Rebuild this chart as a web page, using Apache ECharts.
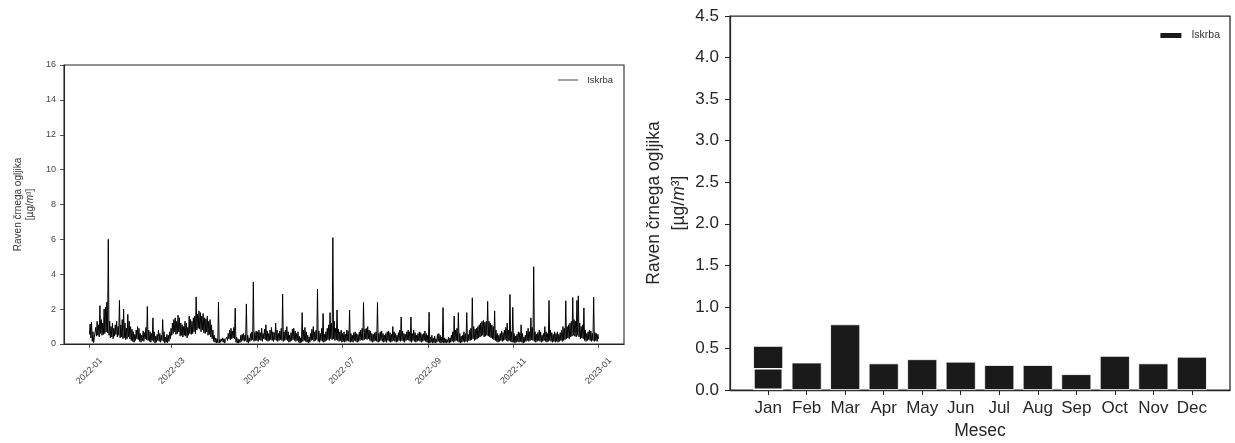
<!DOCTYPE html>
<html>
<head>
<meta charset="utf-8">
<script src="https://cdn.jsdelivr.net/npm/echarts@6/dist/echarts.min.js"></script>
<style>
html,body{margin:0;padding:0;background:#fff;}
#chart{width:1235px;height:443px;}
</style>
</head>
<body>
<div id="chart"></div>
<script>
// ---- Left panel: Iskrba black carbon, 2022, two readings per day (low, high) ----
const bcJan = [
0.55,1.15, 0.35,1.25, 0.15,0.7, 0.08,0.4, 0.3,0.95, 0.45,1.3, 0.5,1.1, 0.4,2.2,
0.6,1.4, 0.5,1.2, 0.55,2.0, 0.6,2.1, 0.7,2.4, 0.65,6.0, 0.5,1.3, 0.35,1.0,
0.4,1.2, 0.3,0.9, 0.45,1.1, 0.55,1.3, 0.4,1.0, 0.5,2.5, 0.35,1.1, 0.4,1.4,
0.3,2.0, 0.35,1.2, 0.25,0.9, 0.3,1.7, 0.4,1.3, 0.3,1.0, 0.2,0.85];
const bcFeb = [
0.15,0.7, 0.1,0.55, 0.2,0.8, 0.3,1.0, 0.25,0.9, 0.15,0.6, 0.1,0.5, 0.2,0.75,
0.15,0.65, 0.3,0.95, 0.25,2.15, 0.2,0.8, 0.15,0.7, 0.1,0.6, 0.2,1.5, 0.15,0.7,
0.05,0.45, 0.1,0.55, 0.2,0.8, 0.15,0.6, 0.1,0.5, 0.2,1.4, 0.15,0.7, 0.05,0.4,
0.1,0.55, 0.08,0.5, 0.15,0.7, 0.3,0.9];
const bcMar = [
0.5,1.2, 0.6,1.4, 0.7,1.5, 0.55,1.3, 0.6,1.65, 0.7,1.5, 0.45,1.2, 0.5,1.1,
0.4,1.0, 0.5,1.3, 0.45,1.2, 0.35,0.95, 0.5,1.6, 0.6,1.4, 0.55,1.3, 0.6,1.5,
0.7,1.6, 0.6,2.7, 0.8,1.7, 0.9,1.9, 0.85,1.8, 0.7,1.6, 0.8,1.75, 0.65,1.5,
0.6,1.45, 0.7,1.6, 0.5,1.3, 0.55,1.4, 0.4,1.1, 0.3,0.8, 0.15,0.5];
const bcApr = [
0.1,0.35, 0.05,0.3, 0.08,2.4, 0.05,0.25, 0.1,0.3, 0.15,0.35, 0.1,0.3, 0.05,0.25,
0.15,0.4, 0.2,0.6, 0.3,0.8, 0.25,0.9, 0.3,0.75, 0.35,0.95, 0.3,2.05, 0.1,0.4,
0.05,0.3, 0.05,0.25, 0.1,0.5, 0.15,0.55, 0.2,0.6, 0.15,0.5, 0.2,2.3, 0.1,0.5,
0.05,0.35, 0.15,0.6, 0.2,0.7, 0.25,3.55, 0.15,0.65, 0.2,0.75];
const bcMay = [
0.2,0.7, 0.15,0.8, 0.25,0.65, 0.2,0.9, 0.15,0.6, 0.3,0.85, 0.25,1.1, 0.2,0.75,
0.15,0.6, 0.2,0.8, 0.25,0.95, 0.2,0.7, 0.15,0.65, 0.25,1.2, 0.2,0.8, 0.15,0.6,
0.2,0.75, 0.25,0.9, 0.2,2.86, 0.15,0.7, 0.2,0.8, 0.25,1.0, 0.2,0.7, 0.1,0.5,
0.15,0.65, 0.2,0.85, 0.25,0.9, 0.2,0.75, 0.15,0.6, 0.2,0.7, 0.1,0.45];
const bcJun = [
0.05,0.35, 0.1,1.8, 0.15,0.8, 0.2,0.95, 0.15,0.7, 0.1,0.5, 0.05,0.4, 0.1,0.6,
0.2,0.85, 0.25,1.0, 0.15,0.7, 0.2,0.8, 0.25,3.14, 0.15,0.75, 0.1,0.6, 0.2,0.9,
0.15,1.75, 0.1,0.55, 0.15,0.7, 0.2,0.9, 0.25,1.1, 0.2,1.8, 0.3,1.2, 0.25,6.1,
0.3,1.3, 0.2,0.9, 0.25,1.95, 0.2,0.85, 0.15,0.7, 0.2,0.8];
const bcJul = [
0.1,0.6, 0.15,0.7, 0.1,0.55, 0.15,0.8, 0.2,0.75, 0.15,1.94, 0.1,0.6, 0.15,0.5,
0.1,0.65, 0.2,0.7, 0.15,0.6, 0.1,0.55, 0.15,0.7, 0.2,0.8, 0.25,0.9, 0.2,2.38,
0.25,0.85, 0.3,0.9, 0.25,1.0, 0.3,0.8, 0.2,0.75, 0.15,0.6, 0.1,0.55, 0.15,0.65,
0.2,0.7, 0.15,2.38, 0.1,0.6, 0.15,0.7, 0.2,0.75, 0.15,0.6, 0.1,0.5];
const bcAug = [
0.15,0.6, 0.1,0.7, 0.2,0.75, 0.15,0.65, 0.1,0.55, 0.15,1.0, 0.2,0.7, 0.15,0.6,
0.1,0.5, 0.15,0.65, 0.2,0.8, 0.15,1.55, 0.2,0.75, 0.15,0.6, 0.1,0.55, 0.2,0.7,
0.25,0.8, 0.2,0.7, 0.15,1.55, 0.1,0.6, 0.2,0.8, 0.15,0.65, 0.1,0.5, 0.15,0.6,
0.2,0.7, 0.15,0.65, 0.1,0.55, 0.15,0.6, 0.2,0.75, 0.15,0.6, 0.1,0.5];
const bcSep = [
0.05,1.82, 0.05,0.4, 0.1,0.5, 0.05,0.35, 0.08,0.45, 0.05,0.3, 0.1,0.55, 0.15,0.6,
0.1,0.5, 0.05,0.4, 0.1,2.09, 0.05,0.35, 0.08,0.3, 0.05,0.25, 0.1,0.4, 0.05,0.35,
0.1,0.5, 0.15,0.7, 0.1,1.6, 0.15,0.8, 0.2,0.9, 0.15,1.8, 0.1,0.6, 0.05,0.45,
0.1,0.5, 0.15,0.7, 0.1,0.6, 0.15,1.8, 0.1,0.55, 0.2,0.8];
const bcOct = [
0.2,0.9, 0.25,2.65, 0.3,1.0, 0.2,0.85, 0.25,0.9, 0.3,1.0, 0.35,1.1, 0.4,1.2,
0.45,1.3, 0.5,1.35, 0.4,1.25, 0.45,1.3, 0.5,2.45, 0.45,1.3, 0.4,1.2, 0.35,1.1,
0.3,1.0, 0.25,1.9, 0.2,0.8, 0.15,0.6, 0.1,0.5, 0.15,0.6, 0.2,0.75, 0.15,0.65,
0.2,0.8, 0.25,0.95, 0.2,1.2, 0.15,0.8, 0.2,2.84, 0.15,0.7, 0.1,2.1];
const bcNov = [
0.1,0.6, 0.05,0.45, 0.1,0.55, 0.15,0.7, 0.1,0.65, 0.15,1.1, 0.1,0.6, 0.05,0.4,
0.1,0.5, 0.15,0.75, 0.2,0.9, 0.15,0.7, 0.2,1.5, 0.25,0.95, 0.2,4.43, 0.15,0.7,
0.1,0.55, 0.15,0.65, 0.2,0.8, 0.15,0.7, 0.1,0.5, 0.15,0.6, 0.2,1.0, 0.15,0.7,
0.1,0.6, 0.15,2.5, 0.2,0.8, 0.15,0.65, 0.1,0.55, 0.15,0.7];
const bcDec = [
0.1,0.6, 0.15,0.7, 0.1,0.55, 0.15,0.65, 0.2,0.8, 0.15,1.0, 0.2,0.9, 0.25,2.48,
0.3,1.0, 0.35,1.1, 0.3,1.2, 0.4,1.3, 0.45,2.67, 0.5,1.4, 0.45,1.3, 0.4,2.5,
0.5,2.76, 0.4,1.2, 0.3,1.0, 0.35,1.1, 0.3,2.07, 0.2,0.8, 0.15,0.6, 0.2,0.7,
0.25,0.8, 0.2,0.75, 0.15,0.6, 0.2,2.68, 0.15,0.65, 0.2,0.6, 0.15,0.55];
const bcNewYear = [0.3];
const monthlyReadings = [bcJan, bcFeb, bcMar, bcApr, bcMay, bcJun, bcJul, bcAug, bcSep, bcOct, bcNov, bcDec];

// time-axis tick labels (left panel)
const timeTickLabels = ['2022-01', '2022-03', '2022-05', '2022-07', '2022-09', '2022-11', '2023-01'];
const leftYTicks = [0, 2, 4, 6, 8, 10, 12, 14, 16];

// ---- Right panel: monthly means ----
const monthNames = ['Jan', 'Feb', 'Mar', 'Apr', 'May', 'Jun', 'Jul', 'Aug', 'Sep', 'Oct', 'Nov', 'Dec'];
const monthlyMean = [0.53, 0.33, 0.79, 0.32, 0.37, 0.34, 0.30, 0.30, 0.19, 0.41, 0.32, 0.40];
const jan2023Mean = [0.265];

// ---- build ----
const HOUR = 3600 * 1000;
const lineData = [];
monthlyReadings.forEach((arr, mi) => {
  const t0 = Date.UTC(2022, mi, 1);
  arr.forEach((v, k) => lineData.push([t0 + k * 12 * HOUR, v]));
});
bcNewYear.forEach(v => lineData.push([Date.UTC(2023, 0, 1), v]));
const tStart = Date.UTC(2022, 0, 1), tEnd = Date.UTC(2023, 0, 1);
const tPad = (tEnd - tStart) * 0.05;
const tickTimes = timeTickLabels.map(s => { const [y, m] = s.split('-').map(Number); return Date.UTC(y, m - 1, 1); });
const tickLabelOf = {};
tickTimes.forEach((t, i) => tickLabelOf[t] = timeTickLabels[i]);

const barData = monthNames.map((m, i) => [i + 1, monthlyMean[i]]);
const barData2023 = jan2023Mean.map(v => [1, v]);
const monthTicks = monthNames.map((m, i) => i + 1);

const FONT = '"Liberation Sans", Arial, sans-serif';
const AX = '#262626';

const chart = echarts.init(document.getElementById('chart'), null, {renderer: 'canvas'});
chart.setOption({
  animation: false,
  backgroundColor: '#fff',
  textStyle: {fontFamily: FONT},
  grid: [
    {left: 64, top: 65, width: 560, height: 279, show: true, borderColor: AX, borderWidth: 1.1,
     backgroundColor: 'transparent', containLabel: false, outerBoundsMode: 'none'},
    {left: 730, top: 16, width: 500, height: 374, show: true, borderColor: AX, borderWidth: 1.25,
     backgroundColor: 'transparent', containLabel: false, outerBoundsMode: 'none'}
  ],
  legend: [
    {
      right: 617, top: 70, orient: 'vertical',
      itemWidth: 20, itemHeight: 1, itemGap: 4,
      textStyle: {fontSize: 9.5, color: '#333', fontFamily: FONT, padding: [0, 0, 0, 4]},
      data: [{name: 'Iskrba', icon: 'rect', itemStyle: {color: '#444'}}]
    },
    {
      right: 10, top: 25, orient: 'vertical',
      itemWidth: 21, itemHeight: 5, itemGap: 4,
      textStyle: {fontSize: 10.5, color: '#333', fontFamily: FONT, padding: [0, 0, 0, 5]},
      data: [{name: 'Iskrba', icon: 'rect', itemStyle: {color: '#1a1a1a'}}]
    }
  ],
  xAxis: [
    {
      gridIndex: 0, type: 'value',
      min: tStart - tPad, max: tEnd + tPad,
      splitLine: {show: false},
      axisLine: {show: true, onZero: false, lineStyle: {color: AX, width: 1.1}},
      axisTick: {show: true, customValues: tickTimes, length: 4, lineStyle: {color: AX, width: 0.8}},
      axisLabel: {customValues: tickTimes, rotate: 45, fontSize: 9, color: '#444', margin: 27,
                  align: 'center', verticalAlign: 'middle',
                  formatter: v => tickLabelOf[v] || ''}
    },
    {
      gridIndex: 1, type: 'value',
      min: 0.01, max: 12.99,
      name: 'Mesec', nameLocation: 'middle', nameGap: 32,
      nameTextStyle: {fontSize: 17.5, color: AX, fontFamily: FONT},
      splitLine: {show: false},
      axisLine: {show: true, onZero: false, lineStyle: {color: AX, width: 1.25}},
      axisTick: {show: true, customValues: monthTicks, length: 5, lineStyle: {color: AX, width: 1}},
      axisLabel: {customValues: monthTicks, fontSize: 17, color: AX, margin: 10,
                  formatter: v => monthNames[Math.round(v) - 1] || ''}
    }
  ],
  yAxis: [
    {
      gridIndex: 0, type: 'value', min: leftYTicks[0], max: leftYTicks[leftYTicks.length - 1], interval: 2,
      name: 'Raven črnega ogljika\n[µg/{it|m}³]', nameLocation: 'middle', nameGap: 28, nameRotate: 90,
      nameTextStyle: {fontSize: 10, color: '#333', lineHeight: 12, fontFamily: FONT, align: 'center',
                      rich: {it: {fontSize: 10, fontStyle: 'italic', color: '#333', lineHeight: 12}}},
      splitLine: {show: false},
      axisLine: {show: true, lineStyle: {color: AX, width: 1.1}},
      axisTick: {show: true, length: 4, lineStyle: {color: AX, width: 0.8}},
      axisLabel: {fontSize: 9, color: '#444', margin: 8}
    },
    {
      gridIndex: 1, type: 'value', min: 0, max: 4.5, interval: 0.5,
      name: 'Raven črnega ogljika\n[µg/{it|m}³]', nameLocation: 'middle', nameGap: 37, nameRotate: 90,
      nameTextStyle: {fontSize: 17.5, color: AX, lineHeight: 25, fontFamily: FONT, align: 'center',
                      rich: {it: {fontSize: 17.5, fontStyle: 'italic', color: AX, lineHeight: 25}}},
      splitLine: {show: false},
      axisLine: {show: true, lineStyle: {color: AX, width: 1.25}},
      axisTick: {show: true, length: 5, lineStyle: {color: AX, width: 1}},
      axisLabel: {fontSize: 17, color: AX, margin: 11, formatter: v => v.toFixed(1)}
    }
  ],
  series: [
    {
      name: 'Iskrba', type: 'line', xAxisIndex: 0, yAxisIndex: 0,
      data: lineData, symbol: 'none', sampling: null,
      lineStyle: {color: '#000', width: 1}, itemStyle: {color: '#000'}
    },
    {
      name: 'Iskrba', type: 'bar', xAxisIndex: 1, yAxisIndex: 1,
      data: barData, barWidth: 30,
      itemStyle: {color: '#1a1a1a', borderColor: '#fff', borderWidth: 0.8}
    },
    {
      name: 'Iskrba 2023', type: 'bar', xAxisIndex: 1, yAxisIndex: 1,
      data: barData2023, barWidth: 30, barGap: '-100%',
      itemStyle: {color: '#1a1a1a', borderColor: '#fff', borderWidth: 1.6}
    }
  ]
});
</script>
</body>
</html>
